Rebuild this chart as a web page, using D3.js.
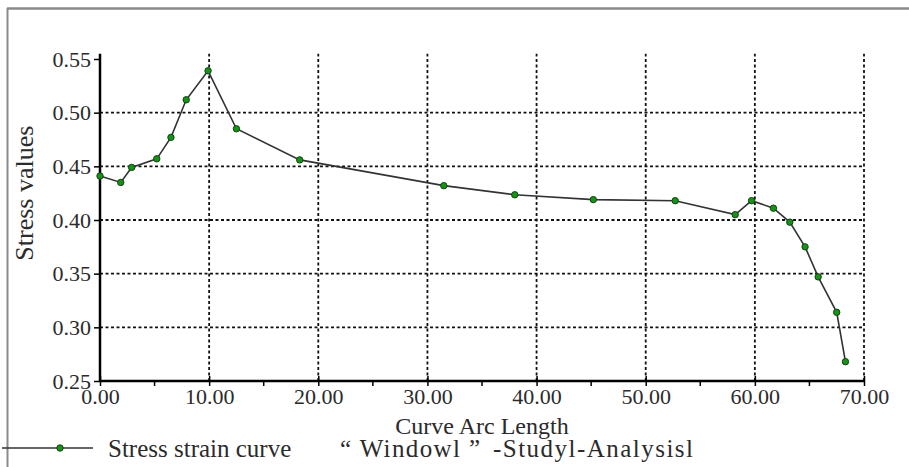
<!DOCTYPE html>
<html>
<head>
<meta charset="utf-8">
<script src="https://cdn.jsdelivr.net/npm/d3@7"></script>
<style>
  html, body { margin: 0; padding: 0; background: #fff; }
  svg { display: block; }
  text { font-family: "Liberation Serif", "Times New Roman", serif; fill: #2b2b2b; }
</style>
</head>
<body>
<svg id="chart" width="909" height="467"></svg>
<script>
// ---- data ----
const arcLength = [0, 1.9, 2.9, 5.2, 6.5, 7.9, 9.9, 12.5, 18.3, 31.5, 38.0, 45.2, 52.7, 58.2, 59.7, 61.7, 63.2, 64.6, 65.8, 67.5, 68.3];
const stressValues = [0.441, 0.435, 0.449, 0.457, 0.477, 0.512, 0.539, 0.485, 0.456, 0.432, 0.4235, 0.419, 0.418, 0.405, 0.418, 0.411, 0.398, 0.375, 0.347, 0.314, 0.268];
const xTicks = [0, 10, 20, 30, 40, 50, 60, 70];
const xMinorTicks = [5, 15, 25, 35, 45, 55, 65];
const yTicks = [0.25, 0.30, 0.35, 0.40, 0.45, 0.50, 0.55];
const xTitle = "Curve Arc Length";
const yTitle = "Stress values";
const legendSeries = "Stress strain curve";
const legendSource1 = "\u201C Windowl \u201D";
const legendSource2 = "-Studyl-Analysisl";

const data = arcLength.map((v, i) => ({ x: v, y: stressValues[i] }));

const svg = d3.select("#chart");
const x = d3.scaleLinear().domain([0, 70]).range([100, 864]);
const y = d3.scaleLinear().domain([0.25, 0.55]).range([381, 59]);

// outer frame
svg.append("line").attr("x1", 7).attr("x2", 909).attr("y1", 8.5).attr("y2", 8.5)
  .attr("stroke", "#8a8a8a").attr("stroke-width", 2.5);
svg.append("line").attr("x1", 7.5).attr("x2", 7.5).attr("y1", 8).attr("y2", 467)
  .attr("stroke", "#8a8a8a").attr("stroke-width", 2);

// grid
const grid = svg.append("g").attr("stroke", "#111").attr("stroke-width", 1.8).attr("stroke-dasharray", "3,2.5");
grid.selectAll("line.h").data(yTicks.filter(t => t > 0.26 && t < 0.54)).join("line")
  .attr("x1", x(0)).attr("x2", x(70)).attr("y1", d => y(d)).attr("y2", d => y(d));
grid.selectAll("line.v").data(xTicks.filter(t => t > 0)).join("line")
  .attr("x1", d => x(d)).attr("x2", d => x(d)).attr("y1", y(0.25)).attr("y2", y(0.555));

// axes
const yAxis = d3.axisLeft(y).tickValues(yTicks).tickFormat(d3.format(".2f")).tickSizeInner(6).tickSizeOuter(0).tickPadding(3);
const gy = svg.append("g").attr("transform", `translate(${x(0)},0)`).call(yAxis);
gy.select(".domain").attr("stroke", "#000").attr("stroke-width", 2.5).attr("d", `M0,${y(0.25)}V${y(0.555)}`);
gy.selectAll(".tick line").attr("stroke", "#000").attr("stroke-width", 1.5);
gy.selectAll(".tick text").attr("font-size", 22).attr("font-family", "Liberation Serif").attr("fill", "#2b2b2b");

const xAxis = d3.axisBottom(x).tickValues(xTicks).tickFormat(d3.format(".2f")).tickSizeInner(5).tickSizeOuter(0).tickPadding(2);
const gx = svg.append("g").attr("transform", `translate(0,${y(0.25)})`).call(xAxis);
gx.select(".domain").attr("stroke", "#000").attr("stroke-width", 2.5).attr("d", `M${x(0)},0H${x(70)}`);
gx.selectAll(".tick line").attr("stroke", "#000").attr("stroke-width", 1.5).attr("y1", -5);
gx.selectAll(".tick text").attr("font-size", 22).attr("font-family", "Liberation Serif").attr("fill", "#2b2b2b");

svg.append("g").attr("transform", `translate(0,${y(0.25)})`)
  .selectAll("line").data(xMinorTicks).join("line")
  .attr("x1", d => x(d)).attr("x2", d => x(d)).attr("y1", 0).attr("y2", 5)
  .attr("stroke", "#000").attr("stroke-width", 1.5);

// titles
svg.append("text").attr("x", (x(0) + x(70)) / 2).attr("y", 434)
  .attr("text-anchor", "middle").attr("font-size", 24).text(xTitle);
svg.append("text").attr("transform", `translate(33,${y(0.425)}) rotate(-90)`)
  .attr("text-anchor", "middle").attr("font-size", 26).text(yTitle);

// series
const line = d3.line().x(d => x(d.x)).y(d => y(d.y));
svg.append("path").datum(data).attr("d", line)
  .attr("fill", "none").attr("stroke", "#333").attr("stroke-width", 1.6);
svg.append("g").selectAll("circle").data(data).join("circle")
  .attr("cx", d => x(d.x)).attr("cy", d => y(d.y)).attr("r", 3.2)
  .attr("fill", "#0b9a0b").attr("stroke", "#1d3b1d").attr("stroke-width", 1);

// legend
const lg = svg.append("g");
lg.append("line").attr("x1", 2).attr("x2", 93).attr("y1", 448).attr("y2", 448)
  .attr("stroke", "#333").attr("stroke-width", 1.6);
lg.append("circle").attr("cx", 60).attr("cy", 448).attr("r", 3.2)
  .attr("fill", "#0b9a0b").attr("stroke", "#1d3b1d").attr("stroke-width", 1);
lg.append("text").attr("x", 108).attr("y", 457).attr("font-size", 25).text(legendSeries);
lg.append("text").attr("x", 340).attr("y", 457).attr("font-size", 25)
  .attr("textLength", 140).attr("lengthAdjust", "spacing").text(legendSource1);
lg.append("text").attr("x", 493).attr("y", 457).attr("font-size", 25)
  .attr("textLength", 200).attr("lengthAdjust", "spacing").text(legendSource2);
</script>
</body>
</html>
